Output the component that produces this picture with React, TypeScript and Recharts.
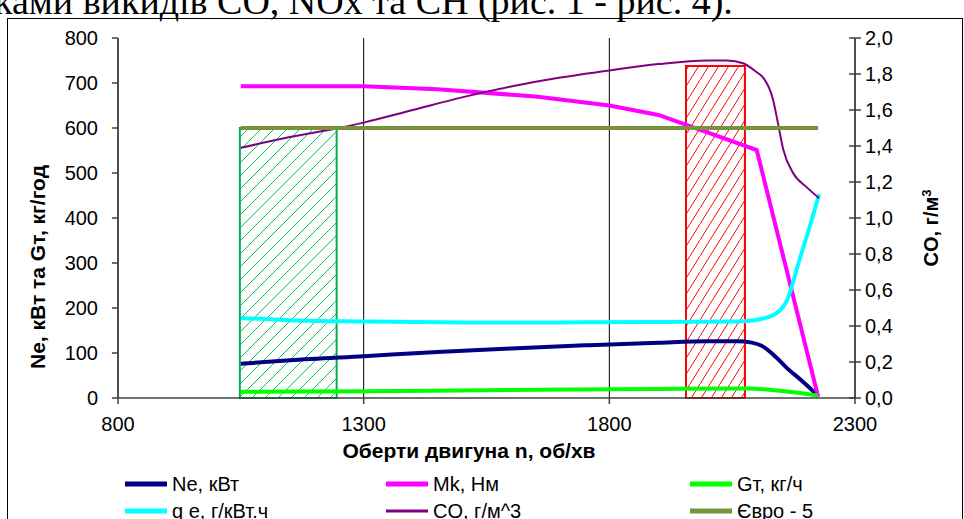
import React from 'react';
import { ComposedChart, Line, XAxis, YAxis, CartesianGrid, ReferenceArea } from 'recharts';

const FONT = '"Liberation Sans", Arial, sans-serif';

// engine speed, rpm
const xTicks = [800, 1300, 1800, 2300];
const leftTicks = [0, 100, 200, 300, 400, 500, 600, 700, 800];
const rightTicks = [0, 0.2, 0.4, 0.6, 0.8, 1.0, 1.2, 1.4, 1.6, 1.8, 2.0];

const neRpm = [1050, 1150, 1300, 1450, 1600, 1750, 1900, 2000, 2060, 2090, 2110, 2140, 2160, 2190, 2225];
const neVal = [76, 84, 93, 102, 110, 117, 123, 126, 126, 123, 116, 90, 68, 40, 5];

const mkRpm = [1050, 1300, 1450, 1650, 1800, 1900, 2100, 2225];
const mkVal = [693, 693, 686, 670, 650, 629, 551, 3];

const gtRpm = [1050, 1300, 1600, 1900, 2080, 2130, 2180, 2225];
const gtVal = [14, 15, 18, 20, 21, 18, 12, 5];

const geRpm = [1050, 1150, 1300, 1500, 1700, 1900, 2050, 2080, 2110, 2141, 2162, 2185, 2212, 2227];
const geVal = [178, 173, 170, 168, 168, 169, 170, 171, 176, 189, 218, 300, 396, 453];

const coRpm = [1050, 1150, 1250, 1300, 1400, 1500, 1600, 1700, 1800, 1900, 2000, 2040, 2072, 2100, 2113, 2133, 2143, 2154, 2174, 2202, 2227];
const coVal = [1.39, 1.45, 1.5, 1.53, 1.6, 1.67, 1.73, 1.78, 1.82, 1.855, 1.875, 1.875, 1.86, 1.81, 1.78, 1.66, 1.53, 1.38, 1.25, 1.17, 1.11];

const euroRpm = [1050, 2225];
const euroVal = [600, 600];

// hatched zones
const greenZone = { x1: 1048, x2: 1245, y1: 0, y2: 600 };
const redZone = { x1: 1956, x2: 2076, y1: 0, y2: 738 };

const toRows = (xs: number[], ys: number[]) => xs.map((n, i) => ({ n, v: ys[i] }));

const series = [
  { name: 'Ne, кВт', rpm: neRpm, val: neVal, color: '#000080', width: 4, axis: 'left' },
  { name: 'Mk, Нм', rpm: mkRpm, val: mkVal, color: '#FF00FF', width: 4, axis: 'left' },
  { name: 'Gт, кг/ч', rpm: gtRpm, val: gtVal, color: '#00FF00', width: 4, axis: 'left' },
  { name: 'g e, г/кВт.ч', rpm: geRpm, val: geVal, color: '#00FFFF', width: 4, axis: 'left' },
  { name: 'CO, г/м^3', rpm: coRpm, val: coVal, color: '#800080', width: 2, axis: 'right' },
  { name: 'Євро - 5', rpm: euroRpm, val: euroVal, color: '#77933C', width: 4, axis: 'left' },
];

const legendLeft = [125, 386, 690];

const RightTick = (props: any) => {
  const { x, y, payload } = props;
  return (
    <g>
      <line x1={x - 16} x2={x - 10} y1={y} y2={y} stroke="#404040" strokeWidth={1.5} />
      <text x={x} y={y} dy="0.35em" textAnchor="start" fontSize={20} fontFamily={FONT} fill="#000">
        {Number(payload.value).toFixed(1).replace('.', ',')}
      </text>
    </g>
  );
};

export default function App() {
  const tick = { fill: '#000', fontSize: 20, fontFamily: FONT };
  return (
    <div style={{ position: 'absolute', left: 0, top: 0, width: 964, height: 519, overflow: 'hidden', background: '#fff' }}>
      <div
        style={{
          position: 'absolute', left: -6, top: -18, whiteSpace: 'nowrap',
          fontFamily: '"Liberation Serif", "Times New Roman", serif', fontSize: 38, lineHeight: '38px',
        }}
      >
        ками викидів CO, NOx та CH (рис. 1 - рис. 4).
      </div>
      <div style={{ position: 'absolute', left: 7, top: 18, width: 954, height: 520, border: '1px solid #000' }} />

      <div style={{ position: 'absolute', left: 0, top: 0 }}>
        <ComposedChart width={964} height={519} margin={{ top: 38, right: 49, left: 58, bottom: 91 }}>
          <defs>
            <pattern id="hatchG" width="13" height="13" patternUnits="userSpaceOnUse">
              <path d="M0,13 L13,0" stroke="#00CC55" strokeWidth={1} fill="none" />
            </pattern>
            <pattern id="hatchR" width="10" height="16" patternUnits="userSpaceOnUse">
              <path d="M0,16 L10,0" stroke="#FF0000" strokeWidth={1} fill="none" />
            </pattern>
          </defs>
          <CartesianGrid stroke="#000" strokeWidth={1} horizontalValues={leftTicks} verticalValues={xTicks} />
          <XAxis
            type="number" dataKey="n" domain={[800, 2300]} ticks={xTicks} allowDuplicatedCategory={false}
            tick={tick} tickSize={6} tickMargin={13} height={30}
            axisLine={{ stroke: '#404040', strokeWidth: 1.5 }} tickLine={{ stroke: '#404040', strokeWidth: 1.5 }}
          />
          <YAxis
            yAxisId="left" domain={[0, 800]} ticks={leftTicks} width={60}
            tick={tick} tickSize={6} tickMargin={14}
            axisLine={{ stroke: '#404040', strokeWidth: 1.5 }} tickLine={{ stroke: '#404040', strokeWidth: 1.5 }}
          />
          <YAxis
            yAxisId="right" orientation="right" domain={[0, 2]} ticks={rightTicks} width={60}
            tick={<RightTick />} tickSize={6} tickMargin={4}
            axisLine={{ stroke: '#404040', strokeWidth: 1.5 }} tickLine={{ stroke: '#404040', strokeWidth: 1.5 }}
          />
          <ReferenceArea yAxisId="left" {...greenZone} fill="url(#hatchG)" fillOpacity={1} stroke="#00B050" strokeWidth={2} ifOverflow="visible" />
          <ReferenceArea yAxisId="left" {...redZone} fill="url(#hatchR)" fillOpacity={1} stroke="#FF0000" strokeWidth={2} ifOverflow="visible" />
          {series.map((s) => (
            <Line
              key={s.name}
              yAxisId={s.axis}
              data={toRows(s.rpm, s.val)}
              dataKey="v"
              name={s.name}
              type={s.name.startsWith('Mk') || s.name.startsWith('Євро') ? 'linear' : 'monotone'}
              stroke={s.color}
              strokeWidth={s.width}
              dot={false}
              isAnimationActive={false}
            />
          ))}
        </ComposedChart>
      </div>

      <div
        style={{
          position: 'absolute', left: 38, top: 267, transform: 'translate(-50%, -50%) rotate(-90deg)',
          whiteSpace: 'nowrap', fontFamily: FONT, fontWeight: 'bold', fontSize: 21,
        }}
      >
        Ne, кВт та Gт, кг/год
      </div>
      <div
        style={{
          position: 'absolute', left: 931, top: 228, transform: 'translate(-50%, -50%) rotate(-90deg)',
          whiteSpace: 'nowrap', fontFamily: FONT, fontWeight: 'bold', fontSize: 20,
        }}
      >
        CO, г/м<sup style={{ fontSize: 13 }}>3</sup>
      </div>
      <div
        style={{
          position: 'absolute', left: 469, top: 451, transform: 'translate(-50%, -50%)',
          whiteSpace: 'nowrap', fontFamily: FONT, fontWeight: 'bold', fontSize: 21,
        }}
      >
        Оберти двигуна n, об/хв
      </div>

      {series.map((s, i) => {
        const col = i % 3;
        const row = Math.floor(i / 3);
        return (
          <div
            key={s.name}
            style={{
              position: 'absolute', left: legendLeft[col], top: 484 + row * 27, transform: 'translateY(-50%)',
              display: 'flex', alignItems: 'center', fontFamily: FONT, fontSize: 20, whiteSpace: 'nowrap',
            }}
          >
            <span style={{ display: 'inline-block', width: 42, height: s.width === 2 ? 3 : 5, background: s.color, marginRight: 5 }} />
            {s.name}
          </div>
        );
      })}
    </div>
  );
}
